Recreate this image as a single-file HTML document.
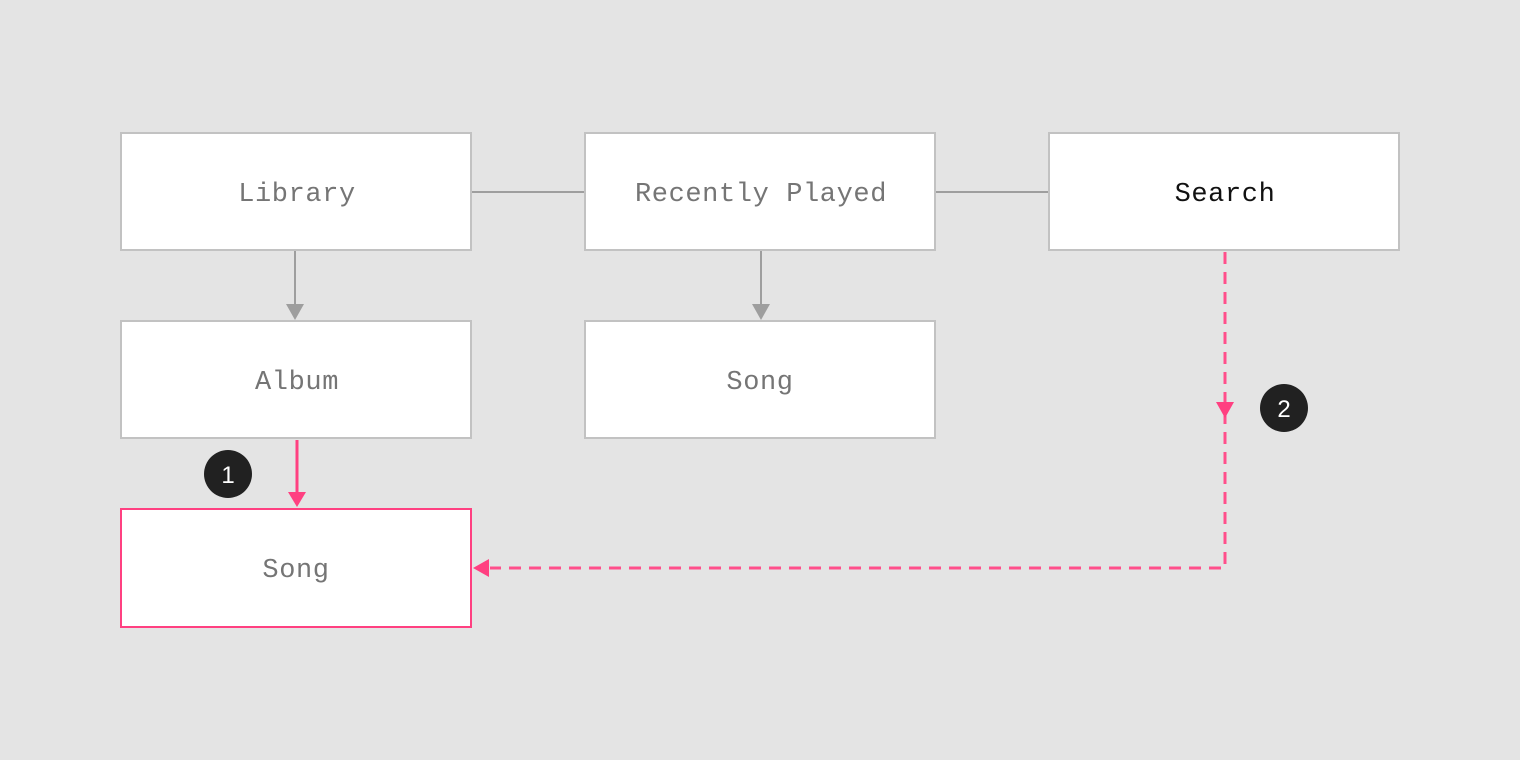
<!DOCTYPE html>
<html><head><meta charset="utf-8"><style>
html,body{margin:0;padding:0;background:#e4e4e4;width:1520px;height:760px;overflow:hidden}
</style></head><body>
<svg width="1520" height="760" xmlns="http://www.w3.org/2000/svg">
<rect width="1520" height="760" fill="#e4e4e4"/>
<g stroke="#9e9e9e" stroke-width="2" fill="none">
<line x1="471" y1="192" x2="585" y2="192"/>
<line x1="935" y1="192" x2="1049" y2="192"/>
<line x1="295" y1="251" x2="295" y2="306"/>
<line x1="761" y1="251" x2="761" y2="306"/>
</g>
<polygon points="286,304 304,304 295,320" fill="#9e9e9e"/>
<polygon points="752,304 770,304 761,320" fill="#9e9e9e"/>
<g fill="#fff" stroke="#c2c2c2" stroke-width="2">
<rect x="121" y="133" width="350" height="117"/>
<rect x="585" y="133" width="350" height="117"/>
<rect x="1049" y="133" width="350" height="117"/>
<rect x="121" y="321" width="350" height="117"/>
<rect x="585" y="321" width="350" height="117"/>
</g>
<rect x="121" y="509" width="350" height="118" fill="#fff" stroke="#ff4081" stroke-width="2"/>
<line x1="297" y1="440" x2="297" y2="494" stroke="#ff4081" stroke-width="3"/>
<polygon points="288,492 306,492 297,507" fill="#ff4081"/>
<path d="M1225 252 V568 H490" stroke="#ff4f8b" stroke-width="3" fill="none" stroke-dasharray="12 8"/>
<polygon points="1216,402 1234,402 1225,418" fill="#ff4081"/>
<polygon points="489,559 489,577 473,568" fill="#ff4081"/>
<circle cx="228" cy="474" r="24" fill="#212121"/>
<circle cx="1284" cy="408" r="24" fill="#212121"/>
<g font-family="Liberation Sans, sans-serif" font-size="24" fill="#fff" text-anchor="middle">
<text x="228" y="483">1</text>
<text x="1284" y="417">2</text>
</g>
<g font-family="Liberation Mono, DejaVu Sans Mono, monospace" font-size="27" letter-spacing="0.6" fill="#757575" text-anchor="middle">
<text x="297" y="201">Library</text>
<text x="761" y="201">Recently Played</text>
<text x="1225" y="201" fill="#111">Search</text>
<text x="297" y="389">Album</text>
<text x="760" y="389">Song</text>
<text x="296" y="577">Song</text>
</g>
</svg>
</body></html>
